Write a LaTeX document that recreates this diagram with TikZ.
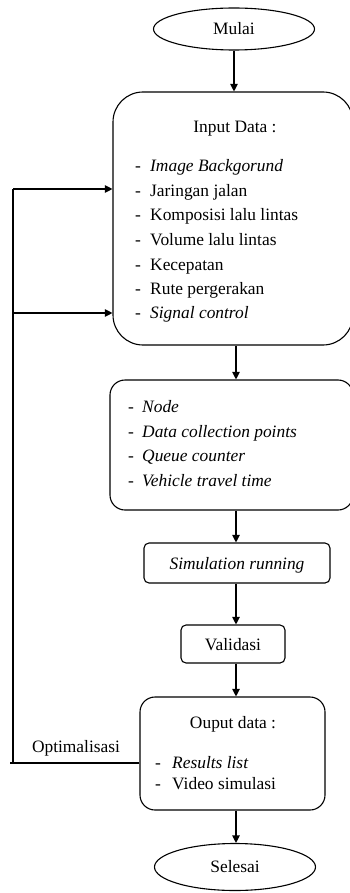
\documentclass[tikz,border=0pt]{standalone}
\usepackage{fontspec}
\setmainfont{Liberation Serif}
\usetikzlibrary{shapes.geometric,arrows.meta}
\begin{document}
\begin{tikzpicture}[x=1pt,y=-1pt,
  every node/.style={font=\fontsize{17.4}{24}\selectfont},
  lin/.style={line width=1.1pt},
  arr/.style={lin,-{Triangle[length=7.5pt,width=7.5pt]}},
  term/.style={draw,lin,ellipse,inner sep=0pt},
  boxa/.style={draw,lin,rectangle,inner sep=0pt},
  txt/.style={inner sep=0pt,anchor=base west},
  ctxt/.style={inner sep=0pt,anchor=base}]
\useasboundingbox (0,0) rectangle (350,893);
% terminals
\node[term,minimum width=161pt,minimum height=42pt] (mulai) at (234,29) {Mulai};
\node[term,minimum width=161pt,minimum height=47pt] (selesai) at (235,867) {Selesai};
% input box
\node[boxa,rounded corners=30pt,minimum width=240pt,minimum height=253pt] (inp) at (233,218.5) {};
\node[ctxt] (inpt) at (235,133) {Input Data :};
\node[txt] (d1) at (135,172) {-};\node[txt] (i1) at (150,172) {\itshape Image Backgorund};
\node[txt] (d2) at (135,197) {-};\node[txt] (i2) at (150,197) {Jaringan jalan};
\node[txt] (d3) at (135,221) {-};\node[txt] (i3) at (150,221) {Komposisi lalu lintas};
\node[txt] (d4) at (135,245) {-};\node[txt] (i4) at (150,245) {Volume lalu lintas};
\node[txt] (d5) at (135,270) {-};\node[txt] (i5) at (150,270) {Kecepatan};
\node[txt] (d6) at (135,294) {-};\node[txt] (i6) at (150,294) {Rute pergerakan};
\node[txt] (d7) at (135,318) {-};\node[txt] (i7) at (150,318) {\itshape Signal control};
% second box
\node[boxa,rounded corners=15pt,minimum width=243pt,minimum height=130pt] (box2) at (231.5,445) {};
\node[txt] (e1) at (128,412) {-};\node[txt] (j1) at (142,412) {\itshape Node};
\node[txt] (e2) at (128,437) {-};\node[txt] (j2) at (142,437) {\itshape Data collection points};
\node[txt] (e3) at (128,461) {-};\node[txt] (j3) at (142,461) {\itshape Queue counter};
\node[txt] (e4) at (128,486) {-};\node[txt] (j4) at (142,486) {\itshape Vehicle travel time};
% simulation
\node[boxa,rounded corners=5pt,minimum width=186pt,minimum height=40pt] (sim) at (237,563) {};
\node[ctxt] (simt) at (237,569) {\itshape Simulation running};
% validasi
\node[boxa,rounded corners=5pt,minimum width=104pt,minimum height=38pt] (val) at (233,644) {};
\node[ctxt] (valt) at (233,650) {Validasi};
% output
\node[boxa,rounded corners=15pt,minimum width=185pt,minimum height=113pt] (out) at (232.5,753.5) {};
\node[ctxt] (outt) at (233,728) {Ouput data :};
\node[txt] (f1) at (155,768) {-};\node[txt] (k1) at (172,768) {\itshape Results list};
\node[txt] (f2) at (155,789) {-};\node[txt] (k2) at (172,789) {Video simulasi};
% label
\node[ctxt] (opt) at (76,752) {Optimalisasi};
% coordinates
\coordinate (fb0) at (10,763);
\coordinate (fb1) at (13,763);
\coordinate (fbt) at (13,189);
\coordinate (fbm) at (13,313);
\coordinate (ax) at (236,0);
% arrows
\draw[arr] (mulai.south) -- (mulai.south |- inp.north);
\draw[arr] (ax |- inp.south) -- (ax |- box2.north);
\draw[arr] (ax |- box2.south) -- (ax |- sim.north);
\draw[arr] (ax |- sim.south) -- (ax |- val.north);
\draw[arr] (ax |- val.south) -- (ax |- out.north);
\draw[arr] (ax |- out.south) -- (ax |- selesai.north);
\draw[lin] (out.west |- fb0) -- (fb0);
\draw[lin] (fb1) -- (fbt);
\draw[arr] (fbt) -- (fbt -| inp.west);
\draw[arr] (fbm) -- (fbm -| inp.west);
\end{tikzpicture}
\end{document}
